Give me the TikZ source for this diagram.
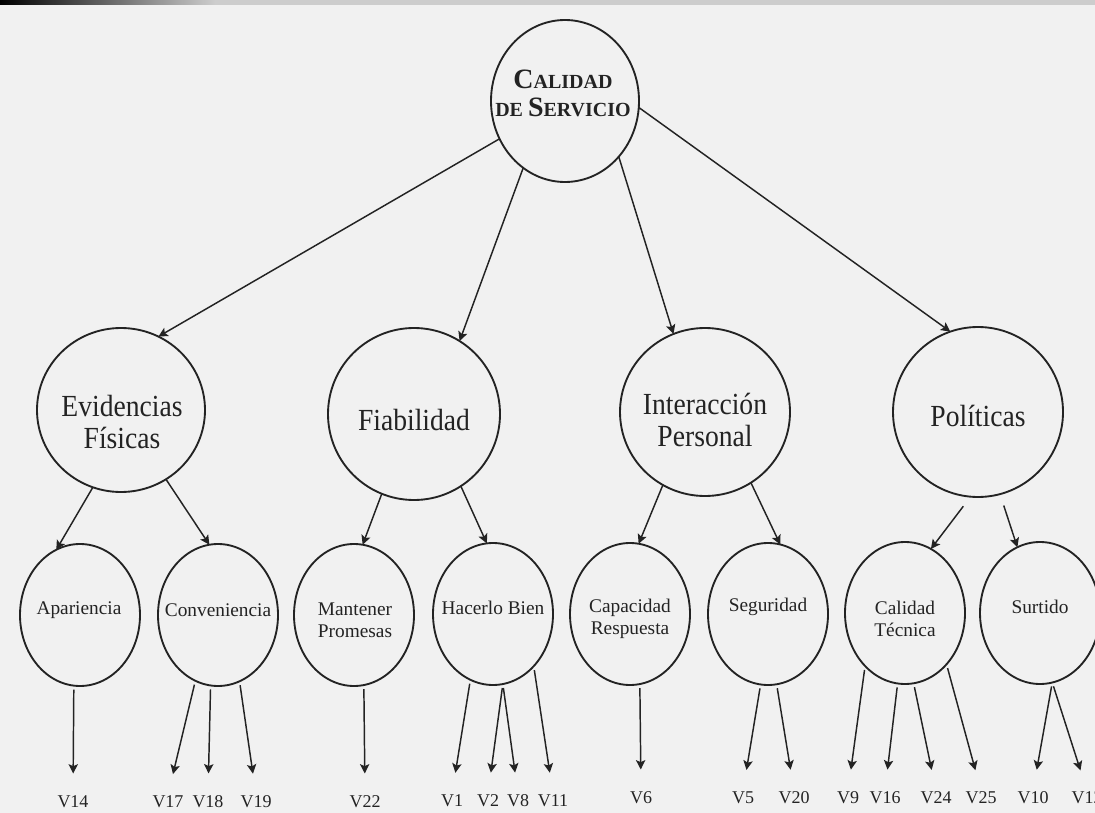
\documentclass[tikz,border=0pt]{standalone}
\usepackage{fontspec}
\setmainfont{Liberation Serif}
\newfontfamily\narrowserif[FakeStretch=0.9]{Liberation Serif}
\usetikzlibrary{shapes.geometric,arrows.meta}
\definecolor{bg}{RGB}{241,241,241}
\definecolor{ink}{RGB}{35,35,35}
\definecolor{band}{RGB}{205,205,205}
\newcommand\capsA[2]{{\fontsize{21}{21}\selectfont #1}{\fontsize{15}{21}\selectfont #2}}
\begin{document}
\begin{tikzpicture}[x=0.75pt,y=-0.75pt,
  circ/.style={ellipse, draw=ink, line width=1.4pt, inner sep=0pt, outer sep=0pt},
  lowc/.style={circ, minimum width=90pt, minimum height=106.5pt},
  ttop/.style={font=\fontsize{21}{21}\selectfont\bfseries, align=center, inner sep=0pt, text=ink},
  tmid/.style={font=\narrowserif\fontsize{23}{23.5}\selectfont, align=center, inner sep=0pt, text=ink},
  tlow/.style={font=\fontsize{14.5}{16.5}\selectfont, align=center, inner sep=0pt, text=ink},
  vlab/.style={font=\fontsize{13.5}{15}\selectfont, inner sep=0pt, anchor=base, text=ink},
  arr/.style={draw=ink, line width=1.1pt, -{Stealth[length=7pt,width=7pt,inset=1.5pt]}},
  arrv/.style={arr, shorten <=3pt, shorten >=16pt}
]
\useasboundingbox (0,0) rectangle (1095,813);
\fill[bg] (0,0) rectangle (1095,813);
\fill[band] (0,0) rectangle (1095,5);
\shade[left color=black, right color=band] (0,0) rectangle (215,5);

% top
\node[circ, minimum width=111pt, minimum height=121.5pt] (top) at (565,101) {};
\node[ttop] (topT) at (563,93) {\capsA{C}{ALIDAD}\\\capsA{}{DE }\capsA{S}{ERVICIO}};

% level 2
\node[circ, minimum width=126pt, minimum height=123pt] (evid) at (121,410) {};
\node[circ, minimum width=129pt, minimum height=129pt] (fiab) at (414,414) {};
\node[circ, minimum width=127.5pt, minimum height=126pt] (inter) at (705,412) {};
\node[circ, minimum width=127.5pt, minimum height=127.5pt] (pol) at (978,412) {};
\node[tmid] (evidT) at (122,422) {Evidencias\\Físicas};
\node[tmid] (fiabT) at (414,420) {Fiabilidad};
\node[tmid] (interT) at (705,420) {Interacción\\Personal};
\node[tmid] (polT) at (978,416) {Políticas};

% level 3
\node[lowc] (apar) at (80,615) {};
\node[lowc] (conv) at (218,615) {};
\node[lowc] (mant) at (354,615) {};
\node[lowc] (hac) at (493,614) {};
\node[lowc] (cap) at (630,614) {};
\node[lowc] (seg) at (768,614) {};
\node[lowc] (calt) at (905,613) {};
\node[lowc] (surt) at (1040,613) {};
\node[tlow] (aparT) at (79,610) {Apariencia};
\node[tlow] (convT) at (218,610) {Conveniencia};
\node[tlow] (mantT) at (355,620) {Mantener\\Promesas};
\node[tlow] (hacT) at (493,608) {Hacerlo Bien};
\node[tlow] (capT) at (630,619) {Capacidad\\Respuesta};
\node[tlow] (segT) at (768,607) {Seguridad};
\node[tlow] (caltT) at (905,619) {Calidad\\Técnica};
\node[tlow] (surtT) at (1040,607) {Surtido};

% variable labels
\node[vlab] (v14) at (73,807) {V14};
\node[vlab] (v17) at (168,807) {V17};
\node[vlab] (v18) at (208,807) {V18};
\node[vlab] (v19) at (256,807) {V19};
\node[vlab] (v22) at (365,807) {V22};
\node[vlab] (v1) at (452,806) {V1};
\node[vlab] (v2) at (488,806) {V2};
\node[vlab] (v8) at (518,806) {V8};
\node[vlab] (v11) at (553,806) {V11};
\node[vlab] (v6) at (641,803) {V6};
\node[vlab] (v5) at (743,803) {V5};
\node[vlab] (v20) at (794,803) {V20};
\node[vlab] (v9) at (848,803) {V9};
\node[vlab] (v16) at (885,803) {V16};
\node[vlab] (v24) at (936,803) {V24};
\node[vlab] (v25) at (981,803) {V25};
\node[vlab] (v10) at (1033,803) {V10};
\node[vlab] (v12) at (1087,803) {V12};

% arrows top -> level 2
\draw[arr] (top.210) -- (evid.63);
\draw[arr] (top.238) -- (fiab.58);
\draw[arr] (top.314) -- (inter.112);
\draw[arr] (top.355) -- (pol.109);

% level 2 -> level 3
\draw[arr] (evid.250) -- (apar.110);
\draw[arr] (evid.303) -- (conv.97);
\draw[arr] (fiab.248) -- (mant.83);
\draw[arr] (fiab.303) -- (hac.95);
\draw[arr] (inter.240) -- (cap.83);
\draw[arr] (inter.303) -- (seg.80);
\draw[arr, shorten <=9pt] (pol.265) -- (calt.68);
\draw[arr, shorten <=9pt] (pol.285) -- (surt.109);

% level 3 -> variables
\draw[arrv] (apar.265) -- (v14.north);
\draw[arrv] (conv.251) -- (v17.north);
\draw[arrv] (conv.264) -- (v18.north);
\draw[arrv] (conv.288) -- (v19.north);
\draw[arrv] (mant.278) -- (v22.north);
\draw[arrv] (hac.251) -- (v1.north);
\draw[arrv] (hac.278) -- (v2.north);
\draw[arrv] (hac.278) -- (v8.north);
\draw[arrv] (hac.308) -- (v11.north);
\draw[arrv] (cap.278) -- (v6.north);
\draw[arrv] (seg.264) -- (v5.north);
\draw[arrv] (seg.277) -- (v20.north);
\draw[arrv] (calt.233) -- (v9.north);
\draw[arrv] (calt.264) -- (v16.north);
\draw[arrv] (calt.277) -- (v24.north);
\draw[arrv] (calt.309) -- (v25.north);
\draw[arrv] (surt.280) -- (v10.north);
\draw[arrv] (surt.280) -- (v12.north);
\end{tikzpicture}
\end{document}
